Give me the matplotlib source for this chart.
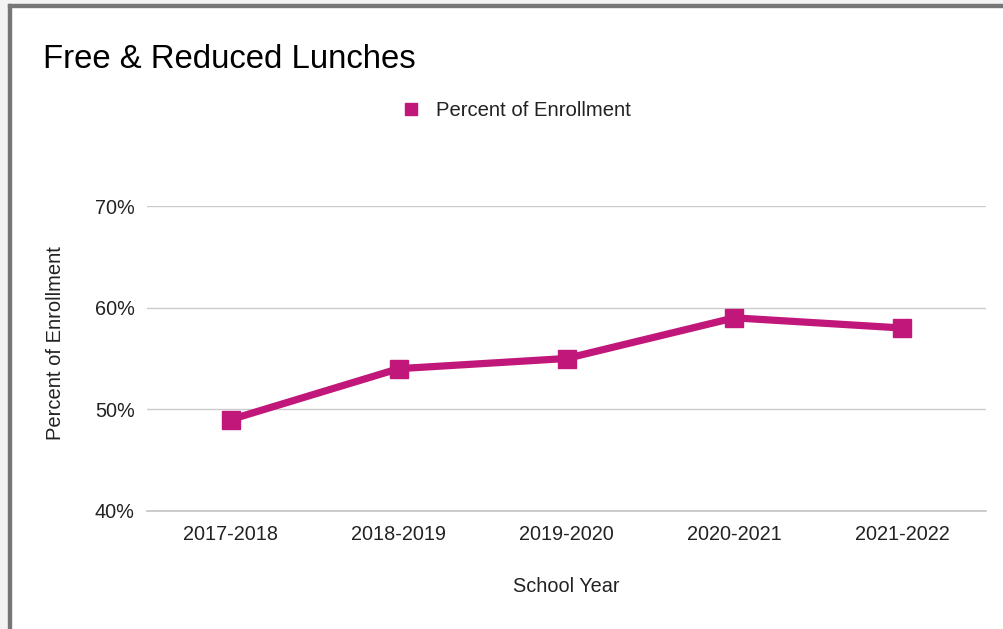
import matplotlib.pyplot as plt
from matplotlib.patches import Rectangle
from matplotlib.lines import Line2D

years = ['2017-2018', '2018-2019', '2019-2020', '2020-2021', '2021-2022']
pct_enrollment = [49, 54, 55, 59, 58]
y_ticks = [40, 50, 60, 70]

W, H = 1004, 629
COLOR = '#c2177a'
TXT = '#222222'

plt.rcParams['font.family'] = ['Liberation Sans', 'DejaVu Sans']

fig = plt.figure(figsize=(W / 100, H / 100), dpi=100)
fig.patch.set_facecolor('white')

# screenshot frame: faint outside area + gray border top/left
fig.add_artist(Rectangle((0, 0), 8 / W, 1, transform=fig.transFigure, color='#f3f3f3', zorder=0))
fig.add_artist(Rectangle((0, 1 - 4 / H), 1, 4 / H, transform=fig.transFigure, color='#f3f3f3', zorder=0))
fig.add_artist(Rectangle((8 / W, 0), 3 / W, 1 - 4 / H, transform=fig.transFigure, color='#767676', zorder=1))
fig.add_artist(Rectangle((8 / W, 1 - 7 / H), 1 - 8 / W, 3 / H, transform=fig.transFigure, color='#767676', zorder=1))

ax_left, ax_bottom, ax_w, ax_h = 147, 511, 839, 305
ax = fig.add_axes([ax_left / W, (H - ax_bottom) / H, ax_w / W, ax_h / H])
x = list(range(len(years)))
ax.plot(x, pct_enrollment, color=COLOR, linewidth=5.2, marker='s', markersize=13,
        solid_joinstyle='miter', zorder=3)

ax.set_xlim(-0.5, len(years) - 0.5)
ax.set_ylim(40, 70)
ax.set_yticks(y_ticks)
ax.set_yticklabels([f'{v}%' for v in y_ticks])
ax.set_xticks(x)
ax.set_xticklabels(years)
ax.grid(axis='y', color='#cccccc', linewidth=1)
ax.axhline(40, color='#c4c4c4', linewidth=1.2, zorder=1, clip_on=False)
ax.set_axisbelow(True)
for s in ax.spines.values():
    s.set_visible(False)
ax.tick_params(length=0, labelsize=14.3, colors=TXT)
ax.tick_params(axis='y', pad=9)
ax.tick_params(axis='x', pad=10)

ax.set_xlabel('School Year', fontsize=14.3, color=TXT, va='center')
ax.xaxis.set_label_coords(0.5, -(587 - ax_bottom) / ax_h)
ax.set_ylabel('Percent of Enrollment', fontsize=14.5, color=TXT, va='center')
ax.yaxis.set_label_coords((55.5 - ax_left) / ax_w, (ax_bottom - 343) / ax_h)

fig.text(43 / W, 1 - 59 / H, 'Free & Reduced Lunches', fontsize=23.7, va='center', ha='left', color='black')

handle = Line2D([], [], color=COLOR, marker='s', linestyle='none', markersize=9)
fig.legend([handle], ['Percent of Enrollment'], loc='center', bbox_to_anchor=(516 / W, 1 - 111 / H),
           frameon=False, fontsize=14.6, handletextpad=0.75, handlelength=1.0, labelcolor=TXT)

fig.savefig('out.png', dpi=100)
